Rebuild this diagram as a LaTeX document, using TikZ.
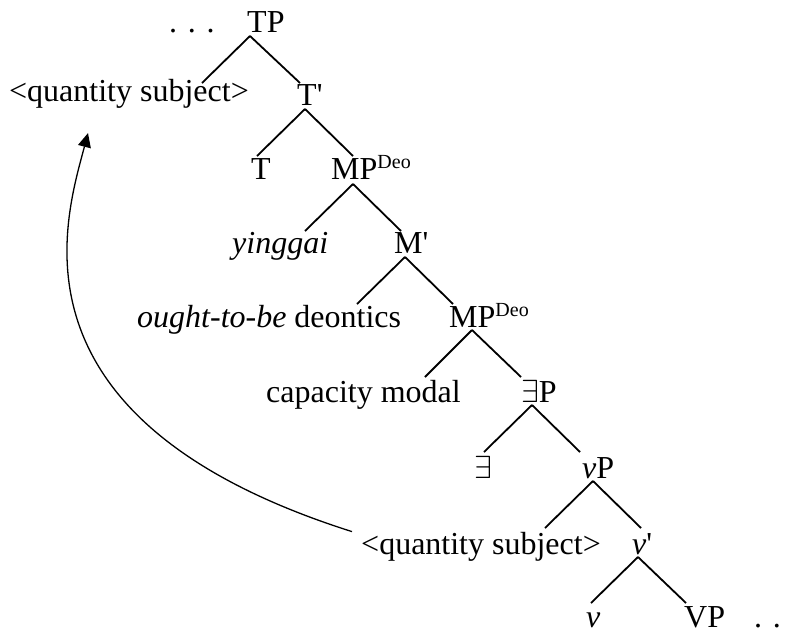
\documentclass[tikz,border=0pt]{standalone}
\usepackage{fontspec}
\setmainfont{Liberation Serif}
\usetikzlibrary{arrows.meta}

\newcommand{\deo}{\raisebox{11pt}{\fontsize{20}{20}\selectfont Deo}}
\newcommand{\pr}{\textquotesingle}
\newcommand{\ex}{\scalebox{3.2}{\normalsize$\exists$}}

\begin{document}
\begin{tikzpicture}[x=1pt, y=-1pt,
          branch/.style={line width=1.8pt},
          lbl/.style={anchor=base west, inner sep=0pt, font=\fontsize{32}{38}\selectfont},
          movearrow/.style={line width=1.3pt, -{Triangle[length=14pt,width=13pt]}},
        ]
          \useasboundingbox (0,0) rectangle (788,630);
          % branching points and branch ends
          \coordinate (TP-b)    at (250, 36);
          \coordinate (qs1-t)   at (202, 83);
          \coordinate (Tb-t)    at (300, 83);
          \coordinate (Tb-b)    at (305,109);
          \coordinate (T-t)     at (257,156);
          \coordinate (MP1-t)   at (353,156);
          \coordinate (MP1-b)   at (353,184);
          \coordinate (ying-t)  at (305,231);
          \coordinate (Mb-t)    at (401,231);
          \coordinate (Mb-b)    at (405,257);
          \coordinate (ought-t) at (357,304);
          \coordinate (MP2-t)   at (453,304);
          \coordinate (MP2-b)   at (472,330);
          \coordinate (cap-t)   at (425,377);
          \coordinate (EP-t)    at (521,377);
          \coordinate (EP-b)    at (532,405);
          \coordinate (E-t)     at (484,452);
          \coordinate (vP-t)    at (580,452);
          \coordinate (vP-b)    at (593,481);
          \coordinate (qs2-t)   at (545,528);
          \coordinate (vb-t)    at (641,528);
          \coordinate (vb-b)    at (638,557);
          \coordinate (v-t)     at (591,603);
          \coordinate (VP-t)    at (686,603);
          \draw[branch] (TP-b)  -- (qs1-t);
          \draw[branch] (TP-b)  -- (Tb-t);
          \draw[branch] (Tb-b)  -- (T-t);
          \draw[branch] (Tb-b)  -- (MP1-t);
          \draw[branch] (MP1-b) -- (ying-t);
          \draw[branch] (MP1-b) -- (Mb-t);
          \draw[branch] (Mb-b)  -- (ought-t);
          \draw[branch] (Mb-b)  -- (MP2-t);
          \draw[branch] (MP2-b) -- (cap-t);
          \draw[branch] (MP2-b) -- (EP-t);
          \draw[branch] (EP-b)  -- (E-t);
          \draw[branch] (EP-b)  -- (vP-t);
          \draw[branch] (vP-b)  -- (qs2-t);
          \draw[branch] (vP-b)  -- (vb-t);
          \draw[branch] (vb-b)  -- (v-t);
          \draw[branch] (vb-b)  -- (VP-t);
          % labels
          \node[lbl] (dots1) at (169, 32) {. . .};
          \node[lbl] (TP)    at (247, 32) {TP};
          \node[lbl] (qs1)   at (  9,101) {<quantity subject>};
          \node[lbl] (Tb)    at (297,105) {T\pr};
          \node[lbl] (T)     at (251,179) {T};
          \node[lbl] (MP1)   at (331,179) {MP\deo};
          \node[lbl] (ying)  at (232,253) {\textit{yinggai}};
          \node[lbl] (Mb)    at (394,253) {M\pr};
          \node[lbl] (ought) at (137,327) {\textit{ought-to-be} deontics};
          \node[lbl] (MP2)   at (449,327) {MP\deo};
          \node[lbl] (cap)   at (266,402) {capacity modal};
          \node[lbl] (EP)    at (521,402) {\ex P};
          \node[lbl] (E)     at (474,478) {\ex};
          \node[lbl] (vP)    at (582,478) {\textit{v}P};
          \node[lbl] (qs2)   at (361,554) {<quantity subject>};
          \node[lbl] (vb)    at (632,554) {\textit{v}\pr};
          \node[lbl] (v)     at (586,627) {\textit{v}};
          \node[lbl] (VP)    at (684,627) {VP};
          \node[lbl] (dots2) at (754,627) {. .};
          % movement of the subject
          \draw[movearrow] ([xshift=-9pt]qs2.north west)
            .. controls (0,420) and (65,220) .. ([shift={(-41,25)}]qs1.south);
        \end{tikzpicture}
\end{document}
